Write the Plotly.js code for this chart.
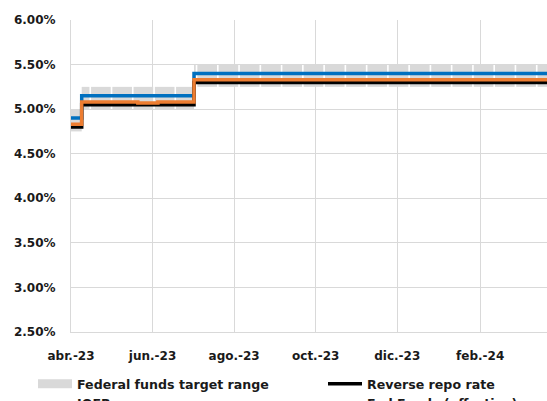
<!DOCTYPE html>
<html>
<head>
<meta charset="utf-8">
<script src="https://cdn.plot.ly/plotly-3.0.1.min.js"></script>
<style>html,body{margin:0;padding:0;background:#fff;}#chart{width:547px;height:401px;}</style>
</head>
<body>
<div id="chart"></div>
<script>
// ---- Data ----
// Federal funds target range, drawn as gray columns (start, end, low, high)
var bandStart = ['2023-04-20T00:00','2023-05-04T00:00','2023-05-11T00:00','2023-05-26T22:00','2023-06-11T19:00','2023-06-27T17:00','2023-07-13T14:00','2023-07-27T00:00','2023-07-29T12:00','2023-08-14T10:00','2023-08-30T07:00','2023-09-15T05:00','2023-10-01T02:00','2023-10-17T00:00','2023-11-01T22:00','2023-11-17T19:00','2023-12-03T17:00','2023-12-19T14:00','2024-01-04T12:00','2024-01-20T10:00','2024-02-05T07:00','2024-02-21T05:00','2024-03-08T02:00','2024-03-24T00:00','2024-04-08T22:00'];
var bandEnd   = ['2023-05-04T00:00','2023-05-09T19:00','2023-05-25T17:00','2023-06-10T14:00','2023-06-26T12:00','2023-07-12T10:00','2023-07-27T00:00','2023-07-28T07:00','2023-08-13T05:00','2023-08-29T02:00','2023-09-14T00:00','2023-09-29T22:00','2023-10-15T19:00','2023-10-31T17:00','2023-11-16T14:00','2023-12-02T12:00','2023-12-18T10:00','2024-01-03T07:00','2024-01-19T05:00','2024-02-04T02:00','2024-02-20T00:00','2024-03-06T22:00','2024-03-22T19:00','2024-04-07T17:00','2024-04-23T14:00'];
var bandLow   = [4.75,5.00,5.00,5.00,5.00,5.00,5.00,5.25,5.25,5.25,5.25,5.25,5.25,5.25,5.25,5.25,5.25,5.25,5.25,5.25,5.25,5.25,5.25,5.25,5.25];
var bandHigh  = [5.00,5.25,5.25,5.25,5.25,5.25,5.25,5.50,5.50,5.50,5.50,5.50,5.50,5.50,5.50,5.50,5.50,5.50,5.50,5.50,5.50,5.50,5.50,5.50,5.50];

// Rates (change points, drawn as steps)
var rrpDates  = ['2023-04-20','2023-05-04','2023-07-27','2024-04-25'];
var rrpRate   = [4.80, 5.05, 5.30, 5.30];
var ioerDates = ['2023-04-20','2023-05-04','2023-07-27','2024-04-25'];
var ioerRate  = [4.90, 5.15, 5.40, 5.40];
var effrDates = ['2023-04-20','2023-05-04','2023-06-15','2023-06-30','2023-07-27','2024-04-25'];
var effrRate  = [4.83, 5.08, 5.07, 5.08, 5.33, 5.33];

// Axis ticks
var xTickVals = ['2023-04-26','2023-06-26','2023-08-26','2023-10-26','2023-12-26','2024-02-26'];
var xTickText = ['abr.-23','jun.-23','ago.-23','oct.-23','dic.-23','feb.-24'];
var yTickVals = [2.5, 3.0, 3.5, 4.0, 4.5, 5.0, 5.5, 6.0];
var yTickText = ['2.50%','3.00%','3.50%','4.00%','4.50%','5.00%','5.50%','6.00%'];

var names = ['Federal funds target range','Reverse repo rate','IOER','Fed Funds (effective)'];

// ---- Build bar geometry from the band table ----
function ms(s){ return Date.parse(s + ':00Z'); }
function iso(t){ return new Date(t).toISOString().slice(0,19).replace('T',' '); }
var bandX = [], bandW = [], bandY = [];
for (var i = 0; i < bandStart.length; i++) {
  var a = ms(bandStart[i]), b = ms(bandEnd[i]);
  bandX.push(iso((a + b) / 2));
  bandW.push(b - a);
  bandY.push(+(bandHigh[i] - bandLow[i]).toFixed(4));
}

var FONT = 'DejaVu Sans';
var GRID = '#d9d9d9';
var TXT = '#1a1a1a';

var traces = [
  {type:'bar', x:bandX, y:bandY, base:bandLow, width:bandW, marker:{color:GRID, line:{width:0}},
   showlegend:false, hoverinfo:'skip'},
  {type:'scatter', mode:'lines', x:[null], y:[null], name:names[0], legend:'legend', line:{color:GRID, width:9}},
  {type:'scatter', mode:'lines', x:ioerDates, y:ioerRate, name:names[2], legend:'legend', line:{color:'#0070C0', width:3.5, shape:'hv'}},
  {type:'scatter', mode:'lines', x:rrpDates, y:rrpRate, name:names[1], legend:'legend2', line:{color:'#000000', width:3.5, shape:'hv'}},
  {type:'scatter', mode:'lines', x:effrDates, y:effrRate, name:names[3], legend:'legend2', line:{color:'#ED7D31', width:3.5, shape:'hv'}}
];

var legendCommon = {orientation:'v', xref:'container', yref:'container', xanchor:'left', yanchor:'top',
  font:{family:FONT, size:12.6, color:TXT, weight:'bold'}, traceorder:'normal',
  bgcolor:'rgba(0,0,0,0)', itemwidth:34, tracegroupgap:0, borderwidth:0};

var layout = {
  width:547, height:401,
  margin:{l:71, r:0, t:20, b:69, pad:0, autoexpand:false},
  paper_bgcolor:'#fff', plot_bgcolor:'#fff',
  font:{family:FONT, size:12, color:TXT, weight:'bold'},
  showlegend:true,
  barmode:'overlay',
  xaxis:{type:'date', range:['2023-04-26','2024-04-16'], tickvals:xTickVals, ticktext:xTickText,
         showgrid:true, gridcolor:GRID, gridwidth:1, showline:true, linecolor:GRID, linewidth:1,
         ticks:'', zeroline:false, ticklabelstandoff:13, automargin:false, tickangle:0,
         tickfont:{family:FONT, size:12, color:TXT, weight:'bold'}},
  yaxis:{range:[2.5, 6.0], tickvals:yTickVals, ticktext:yTickText,
         showgrid:true, gridcolor:GRID, gridwidth:1, showline:true, linecolor:GRID, linewidth:1,
         ticks:'', zeroline:false, ticklabelstandoff:12, automargin:false,
         tickfont:{family:FONT, size:12, color:TXT, weight:'bold'}},
  legend: Object.assign({}, legendCommon, {x:33/547, y:1-369/401}),
  legend2: Object.assign({}, legendCommon, {x:323/547, y:1-369/401})
};

Plotly.newPlot('chart', traces, layout, {staticPlot:true, displayModeBar:false});
</script>
</body>
</html>
